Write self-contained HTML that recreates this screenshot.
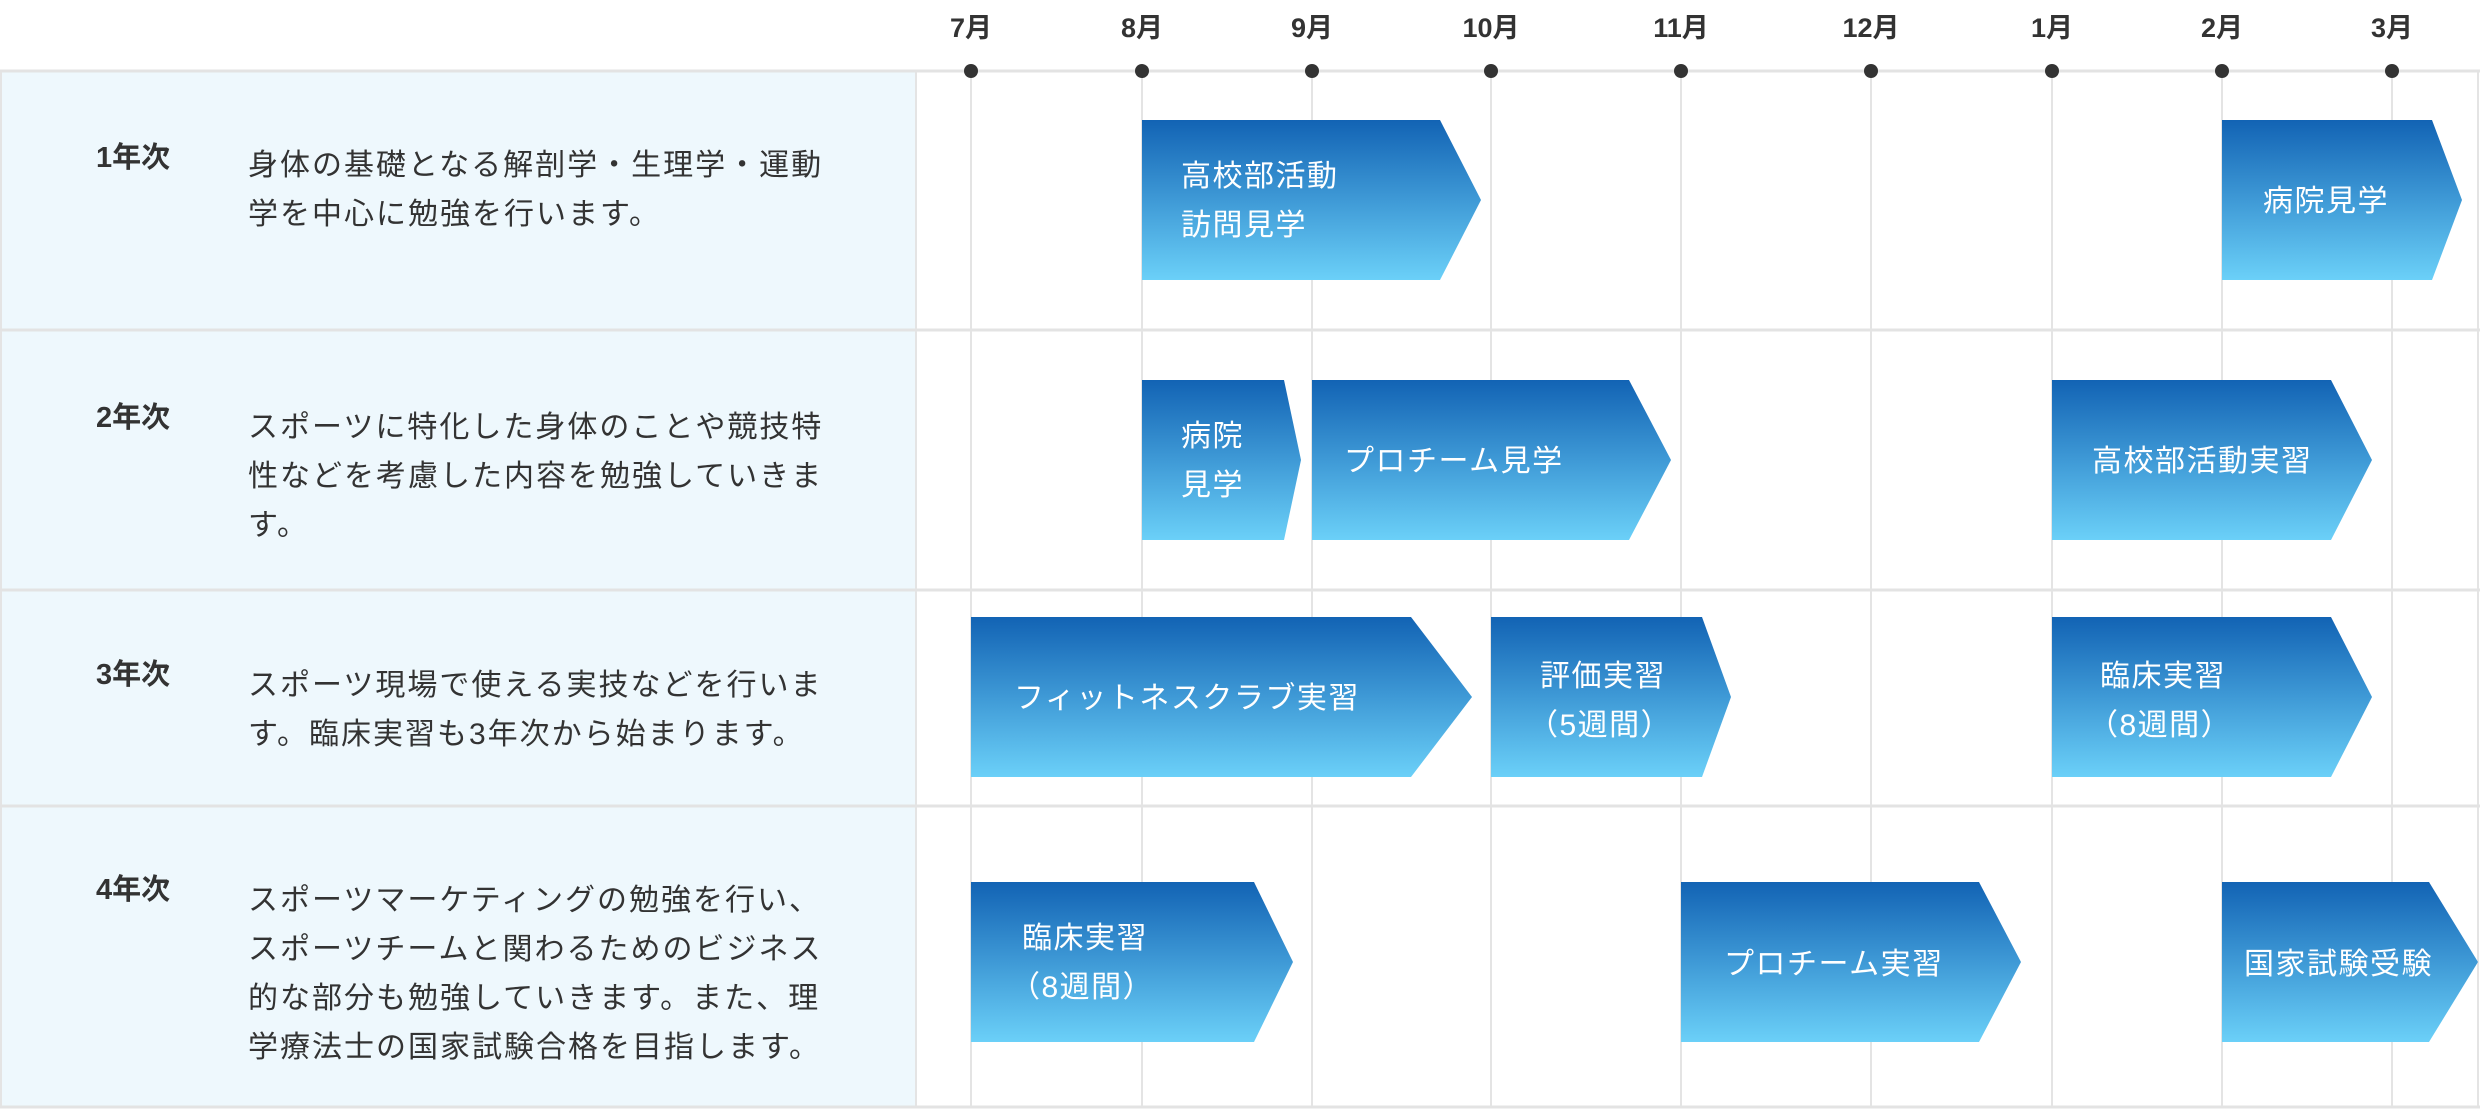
<!DOCTYPE html>
<html><head><meta charset="utf-8"><style>
html,body{margin:0;padding:0;background:#fff;}
body{width:2480px;height:1110px;position:relative;overflow:hidden;font-family:"Liberation Sans","Noto Sans CJK JP",sans-serif;color:#333;}
.a{position:absolute;white-space:nowrap;}
.m{font-weight:bold;font-size:27px;line-height:40px;top:8px;width:100px;margin-left:-50px;text-align:center;color:#333;}
.y{font-weight:bold;font-size:29px;line-height:40px;left:96px;}
.d{font-size:30px;letter-spacing:2px;line-height:49px;left:248px;}
.t{color:#fff;font-size:30px;letter-spacing:1.5px;line-height:49px;}
</style></head><body>
<svg class="a" style="left:0;top:0" width="2480" height="1110">
<defs><linearGradient id="g" x1="0" y1="0" x2="0" y2="1"><stop offset="0" stop-color="#1263b4"/><stop offset="1" stop-color="#6bd0f8"/></linearGradient></defs>
<rect x="0" y="70" width="916" height="1038" fill="#eef8fd"/>
<g stroke="#e4e4e4" stroke-width="2">
<line x1="971" y1="70" x2="971" y2="1108"/><line x1="1142" y1="70" x2="1142" y2="1108"/><line x1="1312" y1="70" x2="1312" y2="1108"/><line x1="1491" y1="70" x2="1491" y2="1108"/><line x1="1681" y1="70" x2="1681" y2="1108"/><line x1="1871" y1="70" x2="1871" y2="1108"/><line x1="2052" y1="70" x2="2052" y2="1108"/><line x1="2222" y1="70" x2="2222" y2="1108"/><line x1="2392" y1="70" x2="2392" y2="1108"/>
<line x1="916" y1="70" x2="916" y2="1108"/><line x1="1" y1="70" x2="1" y2="1108"/><line x1="2478" y1="70" x2="2478" y2="1108"/>
</g>
<g stroke="#e3e3e3" stroke-width="3">
<line x1="0" y1="71" x2="2480" y2="71"/><line x1="0" y1="330" x2="2480" y2="330"/><line x1="0" y1="590" x2="2480" y2="590"/><line x1="0" y1="806" x2="2480" y2="806"/><line x1="0" y1="1107" x2="2480" y2="1107"/>
</g>
<g fill="#333">
<circle cx="971" cy="71" r="7"/><circle cx="1142" cy="71" r="7"/><circle cx="1312" cy="71" r="7"/><circle cx="1491" cy="71" r="7"/><circle cx="1681" cy="71" r="7"/><circle cx="1871" cy="71" r="7"/><circle cx="2052" cy="71" r="7"/><circle cx="2222" cy="71" r="7"/><circle cx="2392" cy="71" r="7"/>
</g>
<g fill="url(#g)">
<polygon points="1142,120 1440,120 1481,200 1440,280 1142,280"/>
<polygon points="2222,120 2432,120 2462,200 2432,280 2222,280"/>
<polygon points="1142,380 1284,380 1301,460 1284,540 1142,540"/>
<polygon points="1312,380 1629,380 1671,460 1629,540 1312,540"/>
<polygon points="2052,380 2331,380 2372,460 2331,540 2052,540"/>
<polygon points="971,617 1411,617 1472,697 1411,777 971,777"/>
<polygon points="1491,617 1702,617 1731,697 1702,777 1491,777"/>
<polygon points="2052,617 2331,617 2372,697 2331,777 2052,777"/>
<polygon points="971,882 1254,882 1293,962 1254,1042 971,1042"/>
<polygon points="1681,882 1979,882 2021,962 1979,1042 1681,1042"/>
<polygon points="2222,882 2429,882 2478,962 2429,1042 2222,1042"/>
</g>
</svg>
<div class="a m" style="left:971px">7月</div><div class="a m" style="left:1142px">8月</div><div class="a m" style="left:1312px">9月</div><div class="a m" style="left:1491px">10月</div><div class="a m" style="left:1681px">11月</div><div class="a m" style="left:1871px">12月</div><div class="a m" style="left:2052px">1月</div><div class="a m" style="left:2222px">2月</div><div class="a m" style="left:2392px">3月</div>

<div class="a y" style="top:138px">1年次</div>
<div class="a d" style="top:141px">身体の基礎となる解剖学・生理学・運動<br>学を中心に勉強を行います。</div>
<div class="a y" style="top:398px">2年次</div>
<div class="a d" style="top:403px">スポーツに特化した身体のことや競技特<br>性などを考慮した内容を勉強していきま<br>す。</div>
<div class="a y" style="top:655px">3年次</div>
<div class="a d" style="top:661px">スポーツ現場で使える実技などを行いま<br>す。臨床実習も3年次から始まります。</div>
<div class="a y" style="top:870px">4年次</div>
<div class="a d" style="top:876px">スポーツマーケティングの勉強を行い、<br>スポーツチームと関わるためのビジネス<br>的な部分も勉強していきます。また、理<br>学療法士の国家試験合格を目指します。</div>

<div class="a t" style="left:1181px;top:152px">高校部活動<br>訪問見学</div>
<div class="a t" style="left:2263px;top:177px">病院見学</div>
<div class="a t" style="left:1181px;top:412px">病院<br>見学</div>
<div class="a t" style="left:1344px;top:437px">プロチーム見学</div>
<div class="a t" style="left:2092px;top:437px">高校部活動実習</div>
<div class="a t" style="left:1014px;top:674px">フィットネスクラブ実習</div>
<div class="a t" style="left:1540px;top:652px">評価実習<br><span style="margin-left:-12px">（5週間）</span></div>
<div class="a t" style="left:2100px;top:652px">臨床実習<br><span style="margin-left:-12px">（8週間）</span></div>
<div class="a t" style="left:1022px;top:914px">臨床実習<br><span style="margin-left:-12px">（8週間）</span></div>
<div class="a t" style="left:1724px;top:940px">プロチーム実習</div>
<div class="a t" style="left:2244px;top:940px">国家試験受験</div>
</body></html>
